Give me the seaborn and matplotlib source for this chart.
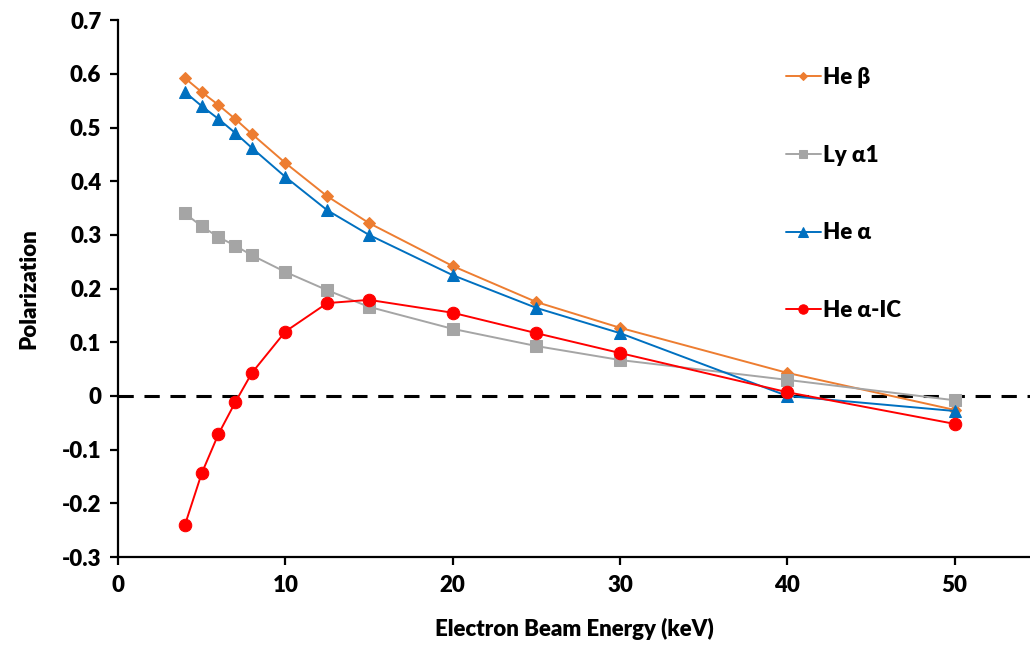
import matplotlib
matplotlib.use("Agg")
import matplotlib.pyplot as plt
import seaborn as sns
import pandas as pd

energy = [4, 5, 6, 7, 8, 10, 12.5, 15, 20, 25, 30, 40, 50]
he_beta = [0.592, 0.566, 0.542, 0.516, 0.488, 0.434, 0.372, 0.322, 0.242, 0.175, 0.127, 0.043, -0.026]
ly_alpha1 = [0.340, 0.316, 0.296, 0.280, 0.262, 0.231, 0.197, 0.166, 0.125, 0.093, 0.067, 0.030, -0.008]
he_alpha = [0.566, 0.540, 0.516, 0.490, 0.462, 0.408, 0.346, 0.300, 0.225, 0.164, 0.117, 0.000, -0.028]
he_alpha_ic = [-0.240, -0.144, -0.071, -0.012, 0.043, 0.120, 0.173, 0.179, 0.155, 0.117, 0.080, 0.007, -0.052]

series_names = ["He β", "Ly α1", "He α", "He α-IC"]
series_values = [he_beta, ly_alpha1, he_alpha, he_alpha_ic]
colors = ["#ED7D31", "#A5A5A5", "#0070C0", "#FF0000"]
markers = ["D", "s", "^", "o"]
msizes = [6, 8, 9, 9]

x_ticks = [0, 10, 20, 30, 40, 50]
y_ticks = [-0.3, -0.2, -0.1, 0, 0.1, 0.2, 0.3, 0.4, 0.5, 0.6, 0.7]
y_tick_labels = ["-0.3", "-0.2", "-0.1", "0", "0.1", "0.2", "0.3", "0.4", "0.5", "0.6", "0.7"]

sns.set_theme(style="white")
plt.rcParams['font.family'] = ['Lato', 'DejaVu Sans']
plt.rcParams['text.color'] = 'black'
plt.rcParams['axes.labelcolor'] = 'black'

fig = plt.figure(figsize=(10.3, 6.5), dpi=100)
ax = fig.add_axes([0.1146, 0.143, 0.8854, 0.826])

ax.axhline(0, color="black", lw=2.2, ls=(0, (5, 3.5)), zorder=1)

for name, vals, c, m, ms in zip(series_names, series_values, colors, markers, msizes):
    df = pd.DataFrame({"x": energy, "y": vals})
    sns.lineplot(data=df, x="x", y="y", ax=ax, color=c, marker=m, markersize=ms,
                 markeredgecolor=c, linewidth=1.4, label=name, zorder=3)

ax.set_xlim(0, 54.5)
ax.set_ylim(-0.3, 0.7)
ax.set_xticks(x_ticks)
ax.set_yticks(y_ticks)
ax.set_yticklabels(y_tick_labels)
ax.set_xticklabels([str(v) for v in x_ticks])
for lab in ax.get_xticklabels() + ax.get_yticklabels():
    lab.set_fontweight("heavy")
    lab.set_fontsize(16)
    lab.set_color("black")

for s in ["top", "right"]:
    ax.spines[s].set_visible(False)
for s in ["left", "bottom"]:
    ax.spines[s].set_color("black")
    ax.spines[s].set_linewidth(1.6)
ax.tick_params(axis="both", which="both", direction="out", length=6, width=1.6,
               color="black", left=True, bottom=True, labelcolor="black", pad=6)
ax.tick_params(axis="x", pad=7)

ax.set_xlabel("Electron Beam Energy (keV)", fontsize=16, fontweight="heavy", labelpad=16, color="black")
ax.set_ylabel("Polarization", fontsize=16, fontweight="heavy", labelpad=16, color="black")

leg = ax.legend(loc="upper left", bbox_to_anchor=(0.71, 0.95), frameon=False,
                fontsize=16, labelspacing=2.55, handlelength=1.6, handletextpad=0.1,
                markerscale=0.75)
for t in leg.get_texts():
    t.set_fontweight("heavy")
    t.set_color("black")

fig.savefig("out.png", dpi=100)
